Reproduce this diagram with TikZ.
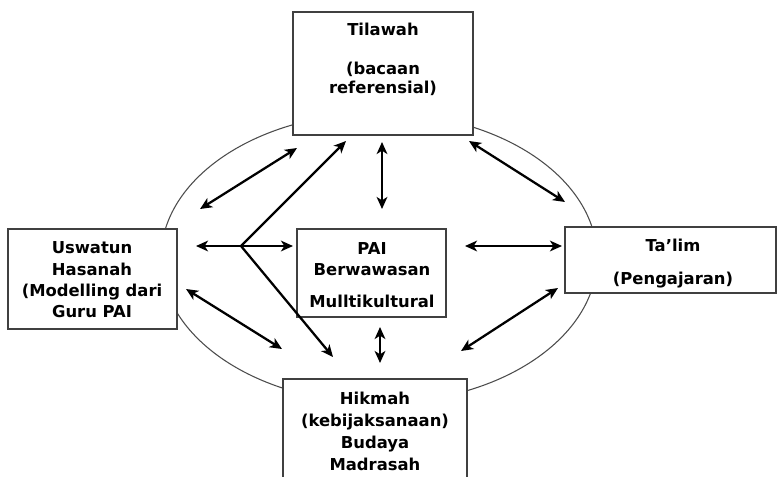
\documentclass[tikz,border=0pt]{standalone}
\usepackage{fontspec}
\setmainfont{DejaVu Sans}
\usetikzlibrary{arrows.meta}
\begin{document}
\begin{tikzpicture}[x=0.75pt,y=-0.75pt,
  box/.style={draw=black!75,line width=1.1pt,fill=white,rectangle},
  lbl/.style={font=\bfseries\fontsize{12.3}{16}\selectfont,align=center,inner sep=0pt},
  conn/.style={line width=1.7pt,-{Stealth[length=9pt,width=8pt,inset=2.5pt]}},
  dconn/.style={line width=1.7pt,{Stealth[length=9pt,width=8pt,inset=2.5pt]}-{Stealth[length=9pt,width=8pt,inset=2.5pt]}},
  ring/.style={draw=black!70,line width=0.8pt}]
\useasboundingbox (0,0) rectangle (778,476);
% ellipse
\draw[ring] (379,258) ellipse [x radius=218, y radius=145];
% boxes
\draw[box] (293,12) rectangle (473,135);
\draw[box] (8,229) rectangle (177,329);
\draw[box] (297,229) rectangle (446,317);
\draw[box] (565,227) rectangle (776,293);
\draw[box] (283,379) rectangle (467,482);
% texts
\node[lbl] (til1) at (383,29) {Tilawah};
\node[lbl,font=\bfseries\fontsize{12.3}{14.5}\selectfont] (til2) at (383,79) {(bacaan\\referensial)};
\node[lbl] (usw) at (92,280) {Uswatun\\Hasanah\\(Modelling dari\\Guru PAI};
\node[lbl] (pai1) at (372,259) {PAI\\Berwawasan};
\node[lbl] (pai2) at (372,301) {Mulltikultural};
\node[lbl] (tal1) at (673,245) {Ta’lim};
\node[lbl] (tal2) at (673,280) {(Pengajaran)};
\node[lbl,font=\bfseries\fontsize{12.3}{16.5}\selectfont] (hik) at (375,431) {Hikmah\\(kebijaksanaan)\\Budaya\\Madrasah};
% arrow end points
\coordinate (br) at (241,246);
\coordinate (a1) at (200,209); \coordinate (b1) at (297,148);
\coordinate (b2) at (346,141);
\coordinate (a3) at (382,142); \coordinate (b3) at (382,209);
\coordinate (a4) at (196,246); \coordinate (b4) at (293,246);
\coordinate (b5) at (333,357);
\coordinate (a6) at (186,289); \coordinate (b6) at (282,349);
\coordinate (a7) at (469,141); \coordinate (b7) at (565,202);
\coordinate (a8) at (465,246); \coordinate (b8) at (562,246);
\coordinate (a9) at (461,351); \coordinate (b9) at (558,288);
\coordinate (a10) at (380,327); \coordinate (b10) at (380,363);
% connectors
\draw[dconn] (a1) -- (b1);
\draw[conn] (br) -- (b2);
\draw[dconn] (a3) -- (b3);
\draw[conn] (br) -- (a4);
\draw[conn] (br) -- (b4);
\draw[conn] (br) -- (b5);
\draw[dconn] (a6) -- (b6);
\draw[dconn] (a7) -- (b7);
\draw[dconn] (a8) -- (b8);
\draw[dconn] (a9) -- (b9);
\draw[dconn] (a10) -- (b10);
\end{tikzpicture}
\end{document}
